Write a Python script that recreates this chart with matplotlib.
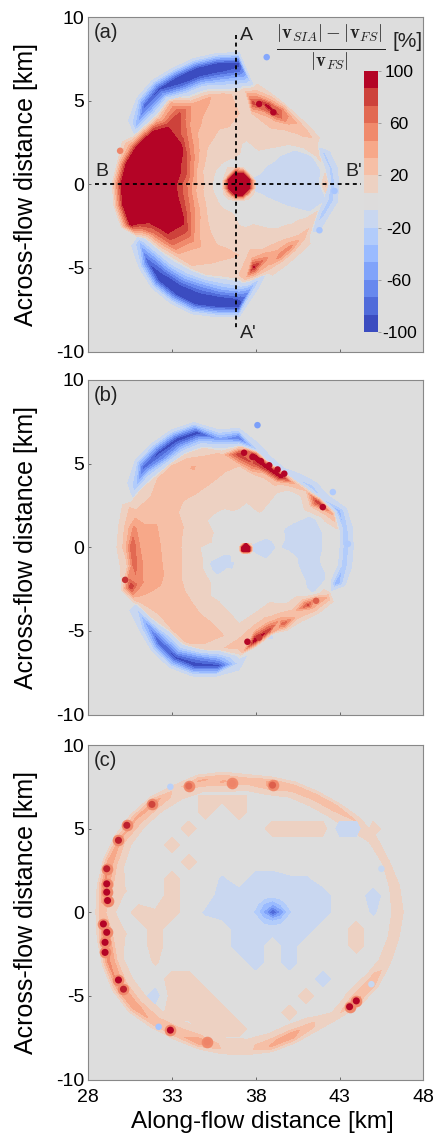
#!/usr/bin/env python3
# -*- coding: utf-8 -*-

import numpy as np
import matplotlib
matplotlib.use('Agg')
import matplotlib.pyplot as plt

plt.rcParams['font.family'] = ['Liberation Sans', 'DejaVu Sans']
plt.rcParams['axes.unicode_minus'] = False
plt.rcParams['mathtext.fontset'] = 'cm'

x_ticks = [28, 33, 38, 43, 48]
y_ticks = [-10, -5, 0, 5, 10]
cbar_ticks = [100, 60, 20, -20, -60, -100]
levels = np.linspace(-100, 100, 16)
angles = list(range(0, 360, 10))

# radial stations as a fraction of the rim radius, one row per angle
frac_ab = [0, .15, .25, .35, .45, .55, .7, .8, .88, .94]
frac_c = [0, .4, .6, .75, .84, .91, .95, .98]

a_centre = (37.0, 0.0)
a_rim = [5.9, 5.9, 5.7, 5.55, 5.4, 5.3, 5.4, 5.65, 6.15, 7.7, 7.75, 7.8,
         7.8, 7.9, 7.8, 7.5, 7.3, 7.2, 7.4, 7.4, 7.3, 7.3, 7.6, 7.9,
         8.0, 8.05, 7.85, 7.75, 6.3, 5.9, 5.6, 5.5, 5.6, 5.6, 5.6, 5.9]
a_vals = [
    [0, -10, -10, -10, -10, -10, -10, -8, 25, -30],
    [0, -10, -10, -10, -10, -10, -10, -10, 0, -25],
    [0, -8, -10, -10, -10, -10, -10, -10, 12, -25],
    [0, 0, 0, -8, -8, -10, -8, 8, 15, 18],
    [0, 0, 0, 0, 0, 0, 8, 12, 22, 25],
    [0, 0, 0, 0, 0, 8, 15, 20, 32, 38],
    [0, 0, 0, 0, 8, 12, 18, 30, 72, 60],
    [0, 0, 0, 0, 8, 12, 18, 38, 95, 40],
    [0, 0, 0, 0, 8, 12, 18, 80, 40, 15],
    [0, 0, 8, 12, 12, 20, 15, -30, -80, -95],
    [0, 0, 12, 15, 20, 25, 25, -35, -90, -100],
    [0, 0, 12, 15, 20, 28, 35, -20, -90, -100],
    [0, 0, 12, 15, 25, 32, 40, -15, -85, -100],
    [0, 0, 12, 18, 28, 40, 75, 35, -50, -95],
    [0, 0, 12, 22, 45, 70, 85, 20, -45, -85],
    [0, 0, 10, 25, 60, 100, 100, 100, 10, -40],
    [0, 0, 10, 25, 70, 100, 100, 100, 100, 40],
    [0, 0, 10, 30, 75, 100, 100, 100, 100, 100],
    [0, 0, 10, 35, 70, 100, 100, 100, 100, 100],
    [0, 0, 10, 32, 70, 100, 100, 100, 100, 100],
    [0, 0, 10, 28, 65, 100, 100, 100, 100, 100],
    [0, 0, 10, 25, 55, 95, 100, 60, 5, -35],
    [0, 0, 10, 22, 45, 80, 70, 8, -50, -85],
    [0, 0, 10, 18, 30, 50, 30, -25, -85, -100],
    [0, 0, 10, 15, 22, 30, 20, -40, -95, -100],
    [0, 0, 10, 12, 18, 25, 15, -55, -100, -100],
    [0, 0, 8, 12, 18, 22, 12, -40, -95, -100],
    [0, 0, 0, 10, 15, 20, 20, -30, -85, -100],
    [0, 0, 0, 0, 10, 15, 25, 90, 25, -30],
    [0, 0, 0, 0, 8, 12, 20, 50, 30, 12],
    [0, 0, 0, 0, 0, 8, 15, 28, 55, 20],
    [0, 0, 0, 0, 0, 0, 12, 22, 50, 20],
    [0, 0, 0, 0, 0, 0, 8, 15, 25, 15],
    [0, 0, 0, 0, 0, 0, 0, 12, 18, -15],
    [0, -8, -8, -10, -10, -10, -8, -8, 8, -30],
    [0, -8, -10, -10, -10, -10, -10, -10, -8, -30],
]

b_centre = (37.0, 0.0)
b_rim = [6.75, 6.8, 6.7, 6.15, 5.95, 5.7, 5.6, 5.75, 6.3, 6.95, 7.0, 7.75,
         7.9, 7.9, 7.9, 7.6, 7.4, 7.25, 7.25, 7.25, 7.3, 7.6, 7.6, 7.9,
         8.1, 8.0, 7.65, 7.4, 6.4, 6.0, 5.6, 5.75, 6.1, 6.4, 6.6, 6.75]
b_vals = [
    [0, -10, -10, -5, -10, -12, -10, 0, 0, -30],
    [0, -8, -10, 0, -10, -12, -10, 0, 5, -30],
    [0, 0, -5, 0, -8, -10, -10, 10, 35, -45],
    [0, 0, 0, 0, 0, 0, 0, 20, 85, -20],
    [0, 0, 0, 0, 0, 0, 0, 5, 20, -30],
    [0, 0, 0, 0, 0, 0, 0, 8, 35, -20],
    [0, 0, 0, 0, 8, 10, 12, 25, 100, -10],
    [0, 0, 0, 0, 8, 12, 10, 25, 100, -15],
    [0, 0, 0, 0, 8, 12, 15, 70, 100, -25],
    [0, 0, 0, 8, 12, 15, 20, 85, -10, -80],
    [0, 0, 0, 10, 12, 15, 22, 22, -15, -55],
    [0, 0, 0, 10, 12, 20, 25, 15, -40, -100],
    [0, 0, 0, 10, 15, 22, 35, 15, -50, -100],
    [0, 0, 0, 10, 15, 22, 25, 20, -60, -95],
    [0, 0, 0, 10, 15, 20, 22, 22, -30, -85],
    [0, 0, 8, 12, 15, 20, 22, 20, 15, -30],
    [0, 0, 8, 12, 18, 25, 32, 25, 20, 20],
    [0, 0, 8, 12, 18, 25, 35, 38, 50, 25],
    [0, 0, 0, 10, 18, 25, 38, 40, 72, 25],
    [0, 0, 0, 10, 18, 25, 38, 45, 65, 15],
    [0, 0, 0, 10, 18, 22, 38, 40, 55, 85],
    [0, -8, -8, 10, 15, 22, 30, 30, 20, -15],
    [0, -10, -10, 8, 12, 20, 25, 25, 5, -55],
    [0, -10, -8, 8, 12, 20, 22, 20, -40, -90],
    [0, -8, 0, 0, 10, 18, 32, 22, -40, -95],
    [0, -8, 0, 0, 8, 15, 30, 15, -65, -100],
    [0, 0, 0, 0, 0, 12, 20, 18, -45, -95],
    [0, 0, 0, 0, 0, 0, 15, 28, 0, -15],
    [0, 0, 0, 0, 0, 0, 10, 30, 100, 5],
    [0, 0, 0, 0, 0, 0, 10, 30, 80, -10],
    [0, 0, 0, 0, 0, 0, 8, 15, 35, 70],
    [0, 0, 0, 0, 0, 0, 0, 10, 25, 25],
    [0, 0, 0, 0, 0, 0, 0, 15, 75, 30],
    [0, 0, 0, -5, -5, -5, -5, -10, 10, 35],
    [0, -5, -8, 0, 0, -5, -10, -10, 0, -50],
    [0, -10, -10, 0, 0, -8, -8, 0, 0, -30],
]

c_centre = (37.5, 0.0)
c_rim = [9.25, 9.2, 9.1, 8.9, 8.65, 8.35, 8.2, 8.15, 8.05, 8.1, 8.35, 8.55,
         8.7, 8.8, 8.9, 8.95, 8.95, 8.9, 8.9, 8.9, 9.0, 9.1, 9.05, 8.8,
         8.6, 8.5, 8.5, 8.45, 8.3, 8.15, 8.1, 8.3, 8.55, 8.8, 9.0, 9.15]
c_vals = [
    [0, 0, 0, 0, 0, 0, 12, 14],
    [0, 0, 0, 0, 0, 0, 10, 12],
    [0, 0, 0, 0, 0, 0, 8, 8],
    [0, 0, 0, 0, 0, 0, 8, 12],
    [0, 0, 0, 0, 0, 8, 15, 20],
    [0, 0, 0, 0, 0, 8, 20, 30],
    [0, 0, 0, 0, 0, 8, 20, 28],
    [0, 0, 0, 0, 0, 8, 22, 28],
    [0, 0, 0, 0, 0, 10, 35, 35],
    [0, 0, 0, 0, 0, 8, 22, 25],
    [0, 0, 0, 0, 0, 12, 35, 30],
    [0, 0, 0, 0, 0, 8, 25, 35],
    [0, 0, 0, 0, 0, 8, 15, 15],
    [0, 0, 0, 0, 0, 8, 28, 40],
    [0, 0, 0, 0, 0, 8, 28, 35],
    [0, 0, 0, 0, 0, 8, 22, 35],
    [0, 0, 0, 0, 0, 12, 30, 45],
    [0, 0, 0, 0, 8, 15, 40, 50],
    [0, 0, 0, 0, 0, 10, 20, 25],
    [0, 0, 0, 0, 8, 15, 45, 50],
    [0, 0, 0, 0, 0, 12, 40, 50],
    [0, 0, 0, 0, 0, 15, 35, 45],
    [0, 0, 0, 0, 0, 15, 35, 40],
    [0, 0, 0, 0, 0, 10, 25, 30],
    [0, 0, 0, 0, 0, 12, 28, 30],
    [0, 0, 0, 0, 0, 12, 35, 40],
    [0, 0, 0, 0, 0, 8, 15, 18],
    [0, 0, 0, 0, 0, 8, 15, 15],
    [0, 0, 0, 0, 0, 10, 30, 35],
    [0, 0, 0, 0, 0, 12, 40, 35],
    [0, 0, 0, 0, 0, 8, 22, 20],
    [0, 0, 0, 0, 0, 0, 8, 14],
    [0, 0, 0, 0, 0, 8, 25, 35],
    [0, 0, 0, 0, 0, 8, 25, 30],
    [0, 0, 0, 0, 0, 0, 14, 14],
    [0, 0, 0, 0, 0, 0, 12, 12],
]

# interior of (c), 1 km cells
inner_x = list(range(30, 47))
inner_y = [7, 6, 5, 4, 3, 2, 1, 0, -1, -2, -3, -4, -5, -6, -7, -8]
inner_vals = [
    [0, 0, 0, 0, 0, 12, 12, 12, 0, 0, 0, 0, 0, 0, 0, 0, 0],
    [0, 0, 0, 0, 0, 12, 0, 12, 0, 0, 0, 0, 0, 0, 0, 0, 0],
    [0, 0, 0, 0, 12, 0, 0, 0, 0, 12, 12, 12, 12, -12, -12, 12, 0],
    [0, 0, 0, 12, 0, 0, 0, 0, 0, 0, 0, 0, 0, 0, 0, 0, 0],
    [0, 0, 0, 0, 12, 0, 0, 0, 0, 0, 0, 0, 0, 0, 0, 0, 0],
    [0, 0, 0, 12, 0, 0, -8, 0, -12, -12, -8, -8, 0, 0, 0, 0, 0],
    [0, 0, 0, 12, 0, 0, -12, -12, -12, -12, -12, -12, -12, 0, 0, -12, 0],
    [0, 12, 8, 12, 0, -8, -12, -12, -12, -12, -12, -12, -12, 0, 0, -8, 0],
    [0, 0, 12, 0, 0, 0, 0, -12, -12, -12, -12, -12, 0, 0, 12, 0, 0],
    [0, 0, 12, 0, 0, 0, 0, -12, -12, 0, -12, 0, 0, 0, 12, 0, 0],
    [0, 0, 8, 0, 0, 0, 0, 0, -12, 0, -12, 0, 0, 0, 0, 0, 0],
    [0, 0, 0, 12, 12, 0, 0, 0, 0, 0, 0, 0, -12, 0, 0, 0, 0],
    [0, 0, -12, 12, 12, 12, 0, 0, 0, 0, 0, 12, 0, 0, 0, 0, 0],
    [0, 0, 0, 12, 12, 12, 12, 0, 0, 0, 12, 0, 0, 0, 0, 0, 0],
    [0, 0, 0, 0, 0, 12, 12, 12, 0, 0, 0, 0, 0, 0, 0, 0, 0],
    [0, 0, 0, 0, 0, 0, 0, 0, 0, 0, 0, 0, 0, 0, 0, 0, 0],
]

# small patches around the centre spots
a_spot_x = [36.0, 36.4, 36.8, 37.2, 37.6, 38.0]
a_spot_y = [1.0, 0.6, 0.2, -0.2, -0.6, -1.0]
a_spot_vals = [
    [0, 8, 20, 8, 0, 0],
    [0, 15, 100, 100, 8, 0],
    [0, 100, 100, 100, 100, 0],
    [0, 100, 100, 100, 100, 0],
    [0, 30, 100, 100, 20, 0],
    [0, 0, 0, 0, 0, 0],
]
b_spot_x = [37.0, 37.2, 37.4, 37.6, 37.8]
b_spot_y = [0.2, 0.0, -0.2, -0.4]
b_spot_vals = [
    [0, 10, 100, 15, 0],
    [0, 100, 100, 100, 8],
    [0, 100, 100, 100, 8],
    [0, 0, 15, 0, 0],
]
c_spot_x = [37.5, 38.0, 38.5, 39.0, 39.5, 40.0, 40.5]
c_spot_y = [1.0, 0.5, 0.0, -0.5, -1.0]
c_spot_vals = [
    [-8, -10, -12, -15, -12, -10, -8],
    [-10, -15, -35, -45, -30, -15, -10],
    [-10, -25, -50, -92, -60, -25, -10],
    [-8, -12, -28, -35, -28, -12, -8],
    [-8, -8, -10, -12, -10, -8, -8],
]

# single small flecks outside the main field
a_fleck_x = [29.9, 38.65, 42.7, 41.8, 38.2, 39.05]
a_fleck_y = [2.0, 7.6, -0.4, -2.75, 4.8, 4.3]
a_fleck_v = [60, -55, -35, -35, 100, 100]
b_fleck_x = [38.1, 42.6, 43.5, 37.3, 37.8, 38.3, 38.8, 39.3, 39.7, 42.0, 37.5, 38.2, 30.2, 41.6]
b_fleck_y = [7.3, 3.3, 0.2, 5.65, 5.4, 5.15, 4.9, 4.65, 4.4, 2.4, -5.65, -5.4, -1.95, -3.2]
b_fleck_v = [-60, -30, -30, 100, 100, 100, 100, 100, 100, 100, 100, 90, 90, 75]
c_fleck_x = [32.9, 32.2, 44.9, 45.5]
c_fleck_y = [7.5, -6.85, -4.3, 2.6]
c_fleck_v = [-25, -35, -15, -15]

# dark spots along the rim of (c)
c_dark_x = [29.15, 29.1, 29.1, 28.9, 29.1, 29.0, 29.0, 29.1, 29.8, 30.3, 31.8,
            29.8, 30.1, 32.9, 43.6, 44.0, 39.0, 36.6, 34.0, 35.1]
c_dark_y = [0.7, 1.2, 1.7, -0.7, -1.2, -1.8, -2.4, 2.6, 4.3, 5.2, 6.45,
            -4.05, -4.6, -7.05, -5.65, -5.3, 7.6, 7.7, 7.55, -7.75]
c_dark_v = [100, 100, 100, 100, 100, 100, 100, 95, 95, 95, 85,
            100, 95, 100, 100, 100, 75, 60, 70, 60]

cmap = plt.get_cmap('coolwarm')
colors = [cmap(i / 14) for i in range(15)]


def fill(ax, x, y, z):
    # the middle band stays open, so the grey of the axes shows through
    ax.contourf(x, y, z, levels=levels[:8], colors=colors[:7])
    ax.contourf(x, y, z, levels=levels[8:], colors=colors[8:])


def polar_field(ax, centre, rim, vals, frac):
    th = np.deg2rad(angles + [360])
    rim = np.array(rim + rim[:1])
    z = np.array(vals + vals[:1], dtype=float)
    z = np.hstack([z, np.zeros((len(th), 2))])
    f = np.array(frac + [1.03, 1.1])
    r = np.outer(rim, f)
    fill(ax, centre[0] + r * np.cos(th)[:, None], centre[1] + r * np.sin(th)[:, None], z)


def main():
    fig = plt.figure(figsize=(4.38, 11.38), dpi=100)
    tops = [17, 380, 745]
    labels = ['(a)', '(b)', '(c)']
    axes = []
    for top, lab in zip(tops, labels):
        ax = fig.add_axes([88.3 / 438, 1 - (top + 334.5) / 1138, 335 / 438, 334.5 / 1138])
        ax.set_facecolor('#dddddd')
        ax.set_xlim(28, 48)
        ax.set_ylim(-10, 10)
        ax.set_xticks(x_ticks)
        ax.set_yticks(y_ticks)
        ax.set_yticklabels([str(t) for t in y_ticks])
        ax.tick_params(direction='in', length=2, width=0.6, color='#555555', labelsize=14, pad=3)
        ax.tick_params(axis='x', pad=7)
        for s in ax.spines.values():
            s.set_color('#888888')
            s.set_linewidth(0.8)
        ax.set_ylabel('Across-flow distance [km]', fontsize=18)
        ax.yaxis.set_label_coords(-0.15, 0.5)
        ax.text(28.35, 9.05, lab, fontsize=14.5, va='center', color='#222222')
        axes.append(ax)
    ax_a, ax_b, ax_c = axes
    ax_a.set_xticklabels([])
    ax_b.set_xticklabels([])
    ax_c.set_xticklabels([str(t) for t in x_ticks])
    ax_c.set_xlabel('Along-flow distance [km]', fontsize=17.5, va='center')
    ax_c.xaxis.set_label_coords(0.52, -0.128)

    polar_field(ax_a, a_centre, a_rim, a_vals, frac_ab)
    fill(ax_a, a_spot_x, a_spot_y, a_spot_vals)
    polar_field(ax_b, b_centre, b_rim, b_vals, frac_ab)
    fill(ax_b, b_spot_x, b_spot_y, b_spot_vals)
    polar_field(ax_c, c_centre, c_rim, c_vals, frac_c)
    fill(ax_c, inner_x, inner_y, inner_vals)
    fill(ax_c, c_spot_x, c_spot_y, c_spot_vals)

    for ax, fx, fy, fv in [(ax_a, a_fleck_x, a_fleck_y, a_fleck_v),
                           (ax_b, b_fleck_x, b_fleck_y, b_fleck_v),
                           (ax_c, c_fleck_x, c_fleck_y, c_fleck_v)]:
        ax.scatter(fx, fy, c=fv, cmap='coolwarm', vmin=-100, vmax=100, s=22, marker='o', linewidths=0)
    # soft halo first, then the dark core
    ax_c.scatter(c_dark_x, c_dark_y, color=colors[11], s=70, marker='o', linewidths=0)
    ax_c.scatter(c_dark_x, c_dark_y, c=c_dark_v, cmap='coolwarm', vmin=-100, vmax=100, s=26,
                 marker='o', linewidths=0)

    # section lines
    ax_a.plot([28.4, 44.3], [0, 0], color='k', linestyle=(0, (2.2, 2)), linewidth=1.3)
    ax_a.plot([36.8, 36.8], [8.9, -8.65], color='k', linestyle=(0, (2.2, 2)), linewidth=1.3)
    ax_a.text(28.4, 0.75, 'B', fontsize=14, va='center', color='#222222')
    ax_a.text(43.35, 0.75, "B'", fontsize=14, va='center', color='#222222')
    ax_a.text(37.05, 8.9, 'A', fontsize=14, va='center', color='#222222')
    ax_a.text(37.05, -8.9, "A'", fontsize=14, va='center', color='#222222')

    # colorbar
    cax = fig.add_axes([364 / 438, 1 - 332 / 1138, 14.3 / 438, 261 / 1138])
    cax.set_facecolor('#dddddd')
    cax.pcolormesh([0, 1], levels, np.array(colors)[:, None, :3])
    cax.set_xticks([])
    cax.set_ylim(-100, 100)
    cax.set_yticks(cbar_ticks)
    cax.yaxis.tick_right()
    cax.set_yticklabels([str(t) for t in cbar_ticks], ha='center')
    cax.tick_params(axis='y', direction='out', length=2, width=0.5, color='#888888', labelsize=12.5, pad=13)
    for s in cax.spines.values():
        s.set_visible(False)

    ax_a.text(39.2, 8.2, r'$\frac{|\mathbf{v}_{SIA}|-|\mathbf{v}_{FS}|}{|\mathbf{v}_{FS}|}$',
              fontsize=19.5, va='center', ha='left', color='#222222')
    ax_a.text(46.15, 8.55, '[%]', fontsize=15, va='center', ha='left', color='#222222')

    fig.savefig('out.png', dpi=100)


if __name__ == "__main__":
    main()
